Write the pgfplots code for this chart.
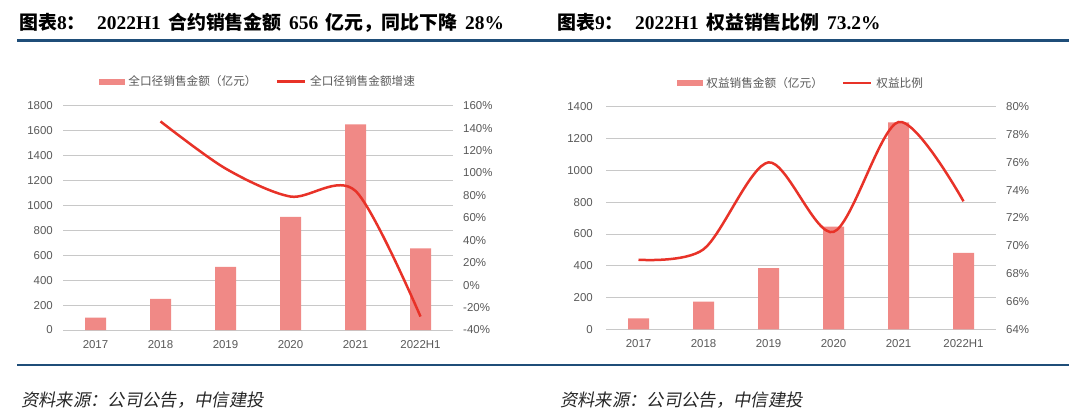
\documentclass[border=0pt]{standalone}
\usepackage{fontspec}
\usepackage{pgfplots}
\pgfplotsset{compat=1.18}
\setmainfont{Liberation Serif}
\newfontfamily\arial{Liberation Sans}
\newfontfamily\cjk{Noto Sans CJK SC}
\newfontfamily\cjkit{Noto Sans CJK SC}[FakeSlant=0.18]
\definecolor{barcol}{RGB}{240,137,134}
\definecolor{linecol}{RGB}{232,50,40}
\definecolor{tickcol}{RGB}{89,89,89}
\definecolor{gridcol}{RGB}{200,200,200}
\definecolor{rulecol}{RGB}{31,78,121}
\newcommand\tl{\fontsize{19.5}{21}\selectfont\bfseries}
\newcommand\tc{\cjk\fontsize{19}{21}\selectfont\bfseries}
\pgfplotsset{
 base/.style={scale only axis, xmin=-0.5, xmax=5.5,
   axis line style={draw=none}, major tick length=0pt,
   xtick={0,...,5}, xticklabels={2017,2018,2019,2020,2021,2022H1},
   tick label style={font=\arial\fontsize{11.5}{12}\selectfont, text=tickcol},
   xticklabel style={inner sep=0pt, yshift=-10bp}, clip=false},
 barax/.style={base, ymajorgrids, grid style={gridcol, line width=0.8bp}},
 lineax/.style={base, xtick=\empty, yticklabel pos=right,
   yticklabel style={inner sep=0pt, xshift=10bp},
   legend columns=2,
   legend style={at={(0.5,1.107)}, anchor=center, draw=none, fill=none,
     font=\cjk\fontsize{11.7}{12}\selectfont, text=tickcol,
     /tikz/every odd column/.append style={column sep=2bp},
     /tikz/every even column/.append style={column sep=17bp}},
   legend cell align=left},
 barleg/.style={legend image code/.code={\fill[barcol] (0bp,-2.5bp) rectangle (25bp,2.5bp);}},
 lineleg/.style={legend image code/.code={\draw[linecol,line width=2.5bp] (0bp,0bp)--(28bp,0bp);}},
}
\begin{document}
\begin{tikzpicture}
\useasboundingbox (0,0) rectangle (1080bp,-418bp);
\fill[white] (0,0) rectangle (1080bp,-418bp);
% rules
\draw[rulecol, line width=3bp] (17bp,-40.5bp) -- (1069bp,-40.5bp);
\draw[rulecol, line width=2bp] (17bp,-365bp) -- (1069bp,-365bp);
\begin{scope}[every node/.style={anchor=base west, inner sep=0pt}]
% titles (left)
\node at (19bp,-29.5bp) {{\tc 图表}{\tl 8}{\tc ：}};
\node[font=\tl] at (97bp,-29.5bp) {2022H1};
\node[font=\tc] at (168bp,-29.5bp) {合约销售金额};
\node[font=\tl] at (289bp,-29.5bp) {656};
\node[font=\tc] at (325bp,-29.5bp) {亿元，同比下降};
\node[font=\tl] at (465bp,-29.5bp) {28\%};
% titles (right)
\node at (557bp,-29.5bp) {{\tc 图表}{\tl 9}{\tc ：}};
\node[font=\tl] at (635bp,-29.5bp) {2022H1};
\node[font=\tc] at (706bp,-29.5bp) {权益销售比例};
\node[font=\tl] at (827bp,-29.5bp) {73.2\%};
% sources
\node[font=\cjkit\fontsize{17.4}{18}\selectfont, text=black!85] at (21bp,-406bp) {资料来源：公司公告，中信建投};
\node[font=\cjkit\fontsize{17.4}{18}\selectfont, text=black!85] at (560bp,-406bp) {资料来源：公司公告，中信建投};
\end{scope}
% ---- left chart
\begin{axis}[barax, at={(63bp,-330bp)}, anchor=south west, width=390bp, height=224.3bp,
  yticklabel style={inner sep=0pt, xshift=-10bp},
  ymin=0, ymax=1800, ytick={0,200,400,600,800,1000,1200,1400,1600,1800},
  yticklabels={0,200,400,600,800,1000,1200,1400,1600,1800}]
\addplot[ybar, bar width=21bp, fill=barcol, draw=none] coordinates {(0,100)(1,250)(2,507)(3,908)(4,1650)(5,656)};
\end{axis}
\begin{axis}[lineax, at={(63bp,-330bp)}, anchor=south west, width=390bp, height=224.3bp,
  ymin=-40, ymax=160, ytick={-40,-20,0,20,40,60,80,100,120,140,160},
  yticklabels={-40\%,-20\%,0\%,20\%,40\%,60\%,80\%,100\%,120\%,140\%,160\%}]
\addlegendimage{barleg}
\addlegendentry{全口径销售金额（亿元）}
\addplot[linecol, line width=2.5bp, smooth, lineleg] coordinates {(1,146)(2,104)(3,79)(4,84)(5,-28)};
\addlegendentry{全口径销售金额增速}
\end{axis}
% ---- right chart
\begin{axis}[barax, at={(606bp,-329.3bp)}, anchor=south west, width=390bp, height=222.6bp,
  yticklabel style={inner sep=0pt, xshift=-13bp},
  ymin=0, ymax=1400, ytick={0,200,400,600,800,1000,1200,1400},
  yticklabels={0,200,400,600,800,1000,1200,1400}]
\addplot[ybar, bar width=21bp, fill=barcol, draw=none] coordinates {(0,69)(1,174)(2,384)(3,646)(4,1301)(5,480)};
\end{axis}
\begin{axis}[lineax, at={(606bp,-329.3bp)}, anchor=south west, width=390bp, height=222.6bp,
  ymin=64, ymax=80, ytick={64,66,68,70,72,74,76,78,80},
  yticklabels={64\%,66\%,68\%,70\%,72\%,74\%,76\%,78\%,80\%}]
\addlegendimage{barleg}
\addlegendentry{权益销售金额（亿元）}
\addplot[linecol, line width=2.5bp, smooth, lineleg] coordinates {(0,69.0)(1,69.75)(2,76.0)(3,71.0)(4,78.9)(5,73.2)};
\addlegendentry{权益比例}
\end{axis}
\end{tikzpicture}
\end{document}
